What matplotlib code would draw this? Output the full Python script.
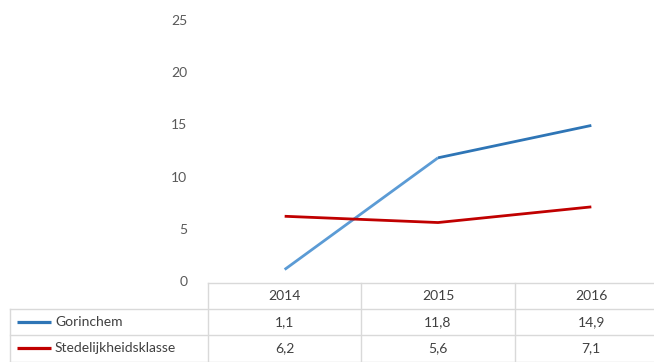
import matplotlib.pyplot as plt

plt.rcParams["font.family"] = ["Lato", "DejaVu Sans"]

years = ["2014", "2015", "2016"]
series_names = ["Gorinchem", "Stedelijkheidsklasse"]
gorinchem = [1.1, 11.8, 14.9]
stedelijk = [6.2, 5.6, 7.1]
labels = [["1,1", "11,8", "14,9"], ["6,2", "5,6", "7,1"]]
y_ticks = [0, 5, 10, 15, 20, 25]

blue = "#2E75B6"
light_blue = "#5B9BD5"
red = "#C00000"
grid = "#D9D9D9"
text_col = "#404040"

W, H = 654, 362
fig = plt.figure(figsize=(W / 100, H / 100), dpi=100)

# plot area: categories 153 px wide, axis runs past the right edge
x0, x1 = 208, 668
y0, y1 = 281, 20
ax = fig.add_axes([x0 / W, (H - y0) / H, (x1 - x0) / W, (y0 - y1) / H])
ax.set_xlim(-0.5, 2.5)
ax.set_ylim(0, 25)
for s in ax.spines.values():
    s.set_visible(False)
ax.set_xticks([])
ax.set_yticks(y_ticks)
ax.tick_params(axis="y", length=0, pad=15, labelsize=10, labelcolor="#595959")

xs = range(len(years))
# first Gorinchem segment is lighter
ax.plot([0, 1], gorinchem[:2], color=light_blue, lw=2, solid_capstyle="butt")
ax.plot([1, 2], gorinchem[1:], color=blue, lw=2, solid_capstyle="butt")
ax.plot(xs, stedelijk, color=red, lw=2, solid_capstyle="butt")

# data table below the plot, x in category units, y in pixels from top
tx = fig.add_axes([x0 / W, 0, (x1 - x0) / W, 1])
tx.set_xlim(-0.5, 2.5)
tx.set_ylim(H, 0)
tx.axis("off")
unit = (x1 - x0) / 3
left = -0.5 - (x0 - 10) / unit
row_top, row1, row2, row_bot = 283, 309, 335, 362

kw = dict(color=grid, lw=1, clip_on=False)
tx.plot([-0.5, 2.5], [row_top, row_top], **kw)
for yy in (row1, row2, row_bot - 0.5):
    tx.plot([left, 2.5], [yy, yy], **kw)
tx.plot([left, left], [row1, row_bot], **kw)
for xv in (-0.5, 0.5, 1.5, 2.5):
    tx.plot([xv, xv], [row_top, row_bot], **kw)

for i, yr in enumerate(years):
    tx.text(i, (row_top + row1) / 2, yr, ha="center", va="center",
            fontsize=10, color=text_col)

colors = [blue, red]
for r, (name, col) in enumerate(zip(series_names, colors)):
    yc = (row1 + row2) / 2 + r * (row2 - row1)
    lx0 = left + 7 / unit
    lx1 = left + 41 / unit
    tx.plot([lx0, lx1], [yc, yc], color=col, lw=2.3, clip_on=False,
            solid_capstyle="butt")
    tx.text(left + 45 / unit, yc, name, ha="left", va="center",
            fontsize=10, color=text_col, clip_on=False)
    for i in range(len(years)):
        tx.text(i, yc, labels[r][i], ha="center", va="center",
                fontsize=10, color=text_col)

fig.savefig("out.png", dpi=100)
